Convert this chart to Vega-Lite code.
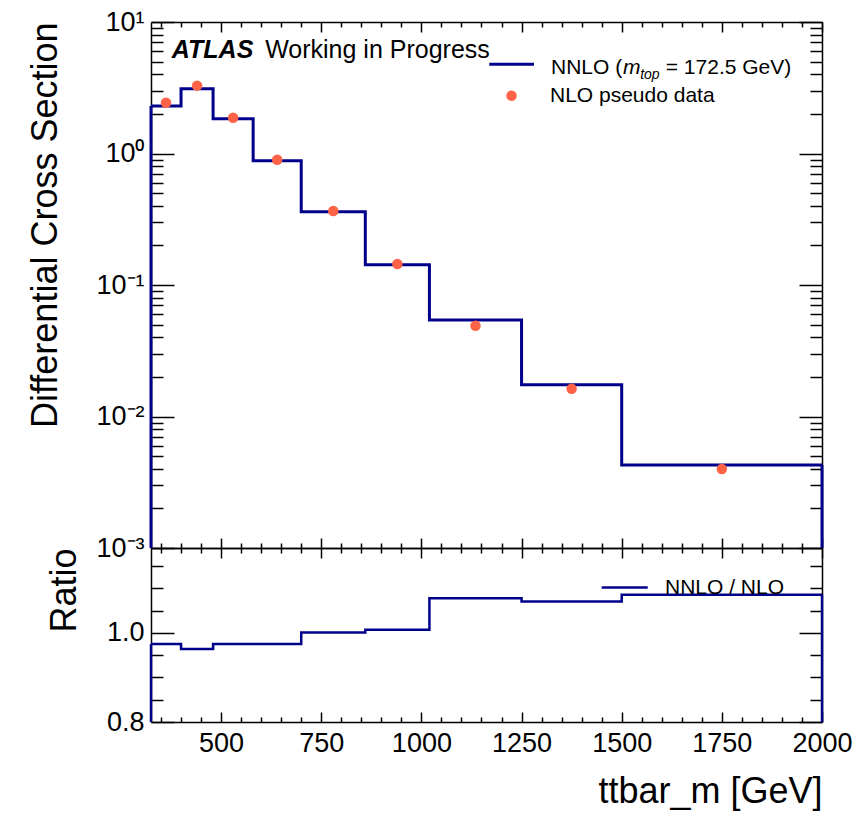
{
  "$schema": "https://vega.github.io/schema/vega-lite/v6.json",
  "background": "white",
  "padding": {"left": 27, "top": 8, "right": 8, "bottom": 5},
  "spacing": 0,
  "bounds": "flush",
  "datasets": {
    "bins": [
      {"lo": 325, "hi": 400, "center": 362.5, "nnlo": 2.30, "nlo": 2.43, "ratio": 0.975},
      {"lo": 400, "hi": 480, "center": 440, "nnlo": 3.11, "nlo": 3.28, "ratio": 0.964},
      {"lo": 480, "hi": 580, "center": 530, "nnlo": 1.84, "nlo": 1.87, "ratio": 0.975},
      {"lo": 580, "hi": 700, "center": 640, "nnlo": 0.881, "nlo": 0.897, "ratio": 0.975},
      {"lo": 700, "hi": 860, "center": 780, "nnlo": 0.361, "nlo": 0.365, "ratio": 1.001},
      {"lo": 860, "hi": 1020, "center": 940, "nnlo": 0.1426, "nlo": 0.1445, "ratio": 1.0075},
      {"lo": 1020, "hi": 1250, "center": 1135, "nnlo": 0.0542, "nlo": 0.0490, "ratio": 1.078},
      {"lo": 1250, "hi": 1500, "center": 1375, "nnlo": 0.01746, "nlo": 0.01626, "ratio": 1.071},
      {"lo": 1500, "hi": 2000, "center": 1750, "nnlo": 0.00428, "nlo": 0.00399, "ratio": 1.086}
    ],
    "one": [{}]
  },
  "config": {
    "font": "Liberation Sans",
    "view": {"stroke": null},
    "axis": {
      "grid": false,
      "labelFont": "Liberation Sans",
      "labelFontSize": 27,
      "labelColor": "black",
      "tickColor": "black",
      "domainColor": "black",
      "domainWidth": 1.5,
      "tickWidth": 1.5,
      "titleFont": "Liberation Sans",
      "titleFontSize": 36,
      "titleFontWeight": "normal",
      "titleColor": "black",
      "labelOverlap": false,
      "labelFlush": false
    },
    "text": {"font": "Liberation Sans", "color": "black"}
  },
  "vconcat": [
    {
      "width": 671,
      "height": 526,
      "resolve": {"axis": {"x": "independent", "y": "independent"}},
      "layer": [
        {
          "data": {"name": "bins"},
          "transform": [{"fold": ["lo", "hi"], "as": ["side", "edge"]}],
          "mark": {"type": "line", "color": "#00008B", "strokeWidth": 3, "clip": true},
          "encoding": {
            "x": {"field": "edge", "type": "quantitative",
                  "scale": {"domain": [325, 2000], "nice": false, "zero": false},
                  "axis": {"orient": "bottom", "values": [500, 750, 1000, 1250, 1500, 1750, 2000], "labels": false, "tickSize": -10, "title": null}},
            "y": {"field": "nnlo", "type": "quantitative",
                  "scale": {"type": "log", "domain": [0.001, 10], "nice": false},
                  "axis": {"orient": "left", "values": [0.001, 0.01, 0.1, 1, 10], "tickSize": -23, "labelPadding": 30,
                           "labelExpr": "'10' + replace(replace(replace(replace(replace(toString(round(log(datum.value)/LN10)),'-','⁻'),'0','⁰'),'1','¹'),'2','²'),'3','³')",
                           "title": "Differential Cross Section", "titleAnchor": "end", "titlePadding": 31}},
            "order": [{"field": "edge", "type": "quantitative"}, {"field": "side", "type": "nominal"}]
          }
        },
        {
          "data": {"name": "bins"},
          "mark": {"type": "point", "filled": true, "color": "#FF6347", "size": 110, "opacity": 1},
          "encoding": {
            "x": {"field": "center", "type": "quantitative",
                  "axis": {"orient": "top", "values": [500, 750, 1000, 1250, 1500, 1750, 2000], "labels": false, "tickSize": -10, "title": null}},
            "y": {"field": "nlo", "type": "quantitative", "scale": {"type": "log", "domain": [0.001, 10], "nice": false},
                  "axis": {"orient": "right", "values": [0.001, 0.01, 0.1, 1, 10], "labels": false, "tickSize": -23, "title": null}}
          }
        },
        {
          "data": {"name": "bins"},
          "transform": [{"filter": "datum.lo == 325"}],
          "mark": {"type": "rule", "color": "#00008B", "strokeWidth": 3},
          "encoding": {
            "x": {"field": "lo", "type": "quantitative",
                  "axis": {"orient": "bottom", "values": [350, 400, 450, 550, 600, 650, 700, 800, 850, 900, 950, 1050, 1100, 1150, 1200, 1300, 1350, 1400, 1450, 1550, 1600, 1650, 1700, 1800, 1850, 1900, 1950], "labels": false, "domain": false, "tickSize": -5, "title": null}},
            "y": {"field": "nnlo", "type": "quantitative", "scale": {"type": "log", "domain": [0.001, 10], "nice": false},
                  "axis": {"orient": "left", "values": [0.002, 0.003, 0.004, 0.005, 0.006, 0.007, 0.008, 0.009, 0.02, 0.03, 0.04, 0.05, 0.06, 0.07, 0.08, 0.09, 0.2, 0.3, 0.4, 0.5, 0.6, 0.7, 0.8, 0.9, 2, 3, 4, 5, 6, 7, 8, 9], "labels": false, "domain": false, "tickSize": -12, "title": null}},
            "y2": {"datum": 0.001}
          }
        },
        {
          "data": {"name": "bins"},
          "transform": [{"filter": "datum.hi == 2000"}],
          "mark": {"type": "rule", "color": "#00008B", "strokeWidth": 3},
          "encoding": {
            "x": {"field": "hi", "type": "quantitative",
                  "axis": {"orient": "top", "values": [350, 400, 450, 550, 600, 650, 700, 800, 850, 900, 950, 1050, 1100, 1150, 1200, 1300, 1350, 1400, 1450, 1550, 1600, 1650, 1700, 1800, 1850, 1900, 1950], "labels": false, "domain": false, "tickSize": -5, "title": null}},
            "y": {"field": "nnlo", "type": "quantitative", "scale": {"type": "log", "domain": [0.001, 10], "nice": false},
                  "axis": {"orient": "right", "values": [0.002, 0.003, 0.004, 0.005, 0.006, 0.007, 0.008, 0.009, 0.02, 0.03, 0.04, 0.05, 0.06, 0.07, 0.08, 0.09, 0.2, 0.3, 0.4, 0.5, 0.6, 0.7, 0.8, 0.9, 2, 3, 4, 5, 6, 7, 8, 9], "labels": false, "domain": false, "tickSize": -12, "title": null}},
            "y2": {"datum": 0.001}
          }
        },
        {
          "data": {"name": "one"},
          "mark": {"type": "text", "text": "ATLAS", "align": "left", "baseline": "alphabetic", "fontSize": 25, "fontWeight": "bold", "fontStyle": "italic"},
          "encoding": {"x": {"datum": 377, "axis": null}, "y": {"datum": 5.35, "axis": null}}
        },
        {
          "data": {"name": "one"},
          "mark": {"type": "text", "text": "Working in Progress", "align": "left", "baseline": "alphabetic", "fontSize": 25},
          "encoding": {"x": {"datum": 610, "axis": null}, "y": {"datum": 5.35, "axis": null}}
        },
        {
          "data": {"name": "one"},
          "mark": {"type": "rule", "color": "#00008B", "strokeWidth": 3},
          "encoding": {"x": {"datum": 1169.5, "axis": null}, "x2": {"datum": 1281}, "y": {"datum": 4.77, "axis": null}}
        },
        {
          "data": {"name": "one"},
          "mark": {"type": "point", "filled": true, "color": "#FF6347", "size": 110, "opacity": 1},
          "encoding": {"x": {"datum": 1225, "axis": null}, "y": {"datum": 2.75, "axis": null}}
        },
        {
          "data": {"name": "one"},
          "mark": {"type": "text", "text": "NNLO (", "align": "left", "baseline": "alphabetic", "fontSize": 21},
          "encoding": {"x": {"datum": 1323.5, "axis": null}, "y": {"datum": 4.0, "axis": null}}
        },
        {
          "data": {"name": "one"},
          "mark": {"type": "text", "text": "m", "align": "left", "baseline": "alphabetic", "fontSize": 21, "fontStyle": "italic"},
          "encoding": {"x": {"datum": 1503, "axis": null}, "y": {"datum": 4.0, "axis": null}}
        },
        {
          "data": {"name": "one"},
          "mark": {"type": "text", "text": "top", "align": "left", "baseline": "alphabetic", "fontSize": 14, "fontStyle": "italic"},
          "encoding": {"x": {"datum": 1546, "axis": null}, "y": {"datum": 3.67, "axis": null}}
        },
        {
          "data": {"name": "one"},
          "mark": {"type": "text", "text": "= 172.5 GeV)", "align": "left", "baseline": "alphabetic", "fontSize": 21},
          "encoding": {"x": {"datum": 1610, "axis": null}, "y": {"datum": 4.0, "axis": null}}
        },
        {
          "data": {"name": "one"},
          "mark": {"type": "text", "text": "NLO pseudo data", "align": "left", "baseline": "alphabetic", "fontSize": 21},
          "encoding": {"x": {"datum": 1321, "axis": null}, "y": {"datum": 2.48, "axis": null}}
        }
      ]
    },
    {
      "width": 671,
      "height": 174,
      "resolve": {"axis": {"x": "independent", "y": "independent"}},
      "layer": [
        {
          "data": {"name": "bins"},
          "transform": [{"fold": ["lo", "hi"], "as": ["side", "edge"]}],
          "mark": {"type": "line", "color": "#00008B", "strokeWidth": 2.5, "clip": true},
          "encoding": {
            "x": {"field": "edge", "type": "quantitative",
                  "scale": {"domain": [325, 2000], "nice": false, "zero": false},
                  "axis": {"orient": "bottom", "values": [500, 750, 1000, 1250, 1500, 1750, 2000], "format": "d", "tickSize": -10, "labelPadding": 18,
                           "title": "ttbar_m [GeV]", "titleAnchor": "end", "titlePadding": 18}},
            "y": {"field": "ratio", "type": "quantitative",
                  "scale": {"domain": [0.8, 1.191], "nice": false, "zero": false},
                  "axis": {"orient": "left", "values": [0.8, 1.0], "format": ".1f", "tickSize": -23, "labelPadding": 30,
                           "title": "Ratio", "titleAnchor": "end", "titlePadding": 23}},
            "order": [{"field": "edge", "type": "quantitative"}, {"field": "side", "type": "nominal"}]
          }
        },
        {
          "data": {"name": "bins"},
          "transform": [{"filter": "datum.lo == 325"}],
          "mark": {"type": "rule", "color": "#00008B", "strokeWidth": 2.5},
          "encoding": {
            "x": {"field": "lo", "type": "quantitative",
                  "axis": {"orient": "top", "values": [500, 750, 1000, 1250, 1500, 1750, 2000], "labels": false, "tickSize": -10, "title": null}},
            "y": {"field": "ratio", "type": "quantitative", "scale": {"domain": [0.8, 1.191], "nice": false, "zero": false},
                  "axis": {"orient": "right", "values": [0.8, 1.0], "labels": false, "tickSize": -23, "title": null}},
            "y2": {"datum": 0.8}
          }
        },
        {
          "data": {"name": "bins"},
          "transform": [{"filter": "datum.hi == 2000"}],
          "mark": {"type": "rule", "color": "#00008B", "strokeWidth": 2.5},
          "encoding": {
            "x": {"field": "hi", "type": "quantitative",
                  "axis": {"orient": "bottom", "values": [350, 400, 450, 550, 600, 650, 700, 800, 850, 900, 950, 1050, 1100, 1150, 1200, 1300, 1350, 1400, 1450, 1550, 1600, 1650, 1700, 1800, 1850, 1900, 1950], "labels": false, "domain": false, "tickSize": -5, "title": null}},
            "y": {"field": "ratio", "type": "quantitative", "scale": {"domain": [0.8, 1.191], "nice": false, "zero": false},
                  "axis": {"orient": "left", "values": [0.85, 0.9, 0.95, 1.05, 1.1, 1.15], "labels": false, "domain": false, "tickSize": -12, "title": null}},
            "y2": {"datum": 0.8}
          }
        },
        {
          "data": {"name": "bins"},
          "mark": {"type": "point", "opacity": 0},
          "encoding": {
            "x": {"field": "center", "type": "quantitative",
                  "axis": {"orient": "top", "values": [350, 400, 450, 550, 600, 650, 700, 800, 850, 900, 950, 1050, 1100, 1150, 1200, 1300, 1350, 1400, 1450, 1550, 1600, 1650, 1700, 1800, 1850, 1900, 1950], "labels": false, "domain": false, "tickSize": -5, "title": null}},
            "y": {"field": "ratio", "type": "quantitative", "scale": {"domain": [0.8, 1.191], "nice": false, "zero": false},
                  "axis": {"orient": "right", "values": [0.85, 0.9, 0.95, 1.05, 1.1, 1.15], "labels": false, "domain": false, "tickSize": -12, "title": null}}
          }
        },
        {
          "data": {"name": "one"},
          "mark": {"type": "rule", "color": "#00008B", "strokeWidth": 2.5},
          "encoding": {"x": {"datum": 1450, "axis": null}, "x2": {"datum": 1565}, "y": {"datum": 1.1025, "axis": null}}
        },
        {
          "data": {"name": "one"},
          "mark": {"type": "text", "text": "NNLO / NLO", "align": "left", "baseline": "alphabetic", "fontSize": 21},
          "encoding": {"x": {"datum": 1608, "axis": null}, "y": {"datum": 1.0876, "axis": null}}
        }
      ]
    }
  ]
}
